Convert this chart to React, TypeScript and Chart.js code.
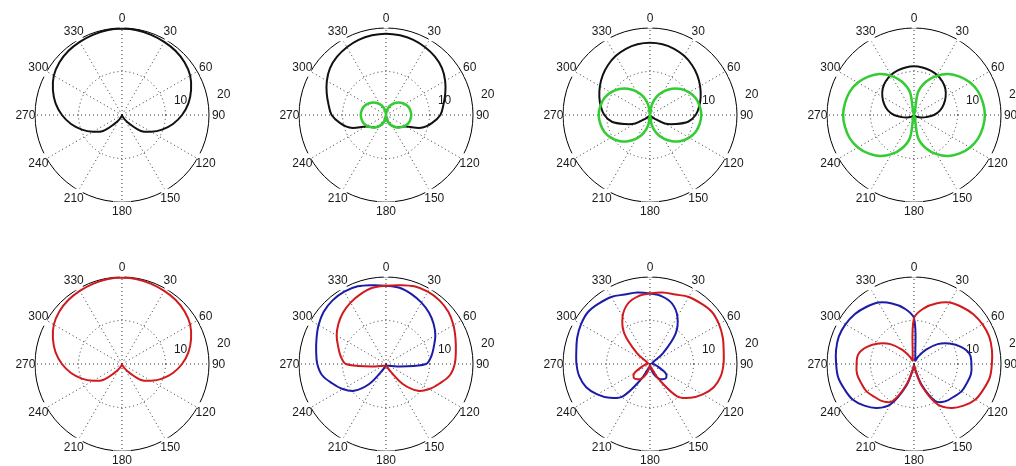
import React, { useEffect, useRef } from 'react';
import { Chart, registerables } from 'chart.js';

Chart.register(...registerables);

// ---- categories / tick labels ----
const ANGLES = ['0','10','20','30','40','50','60','70','80','90','100','110','120','130','140','150','160','170',
  '180','190','200','210','220','230','240','250','260','270','280','290','300','310','320','330','340','350'];
const ANGLE_LABELS = ['0','30','60','90','120','150','180','210','240','270','300','330'];
const RING_TICKS = [10, 20];
const R_MAX = 20;

// ---- series values (radius at 0,10,...,350 degrees, clockwise from top) ----
const P1_BLACK = [19.8, 19.8, 19.6, 19.4, 19.2, 18.8, 18.1, 16.9, 15.5, 13.8, 11.9, 9.8, 7.7, 5.7, 2.6, 1.1, 0.4, 0.1,
  0, 0.1, 0.4, 1.1, 2.6, 5.7, 7.7, 9.8, 11.9, 13.8, 15.5, 16.9, 18.1, 18.8, 19.2, 19.4, 19.6, 19.8];

const P2_BLACK = [18.7, 18.6, 18.4, 18.0, 17.5, 16.8, 15.7, 14.5, 13.4, 12.5, 10.7, 8.6, 5.3, 4.3, 3.7, 2.9, 2.0, 1.0,
  0, 1.0, 2.0, 2.9, 3.7, 4.3, 5.3, 8.6, 10.7, 12.5, 13.4, 14.5, 15.7, 16.8, 17.5, 18.0, 18.4, 18.6];
const P2_GREEN = [0, 1.0, 2.0, 2.9, 3.7, 4.4, 5.0, 5.5, 5.7, 5.8, 5.7, 5.5, 5.0, 4.4, 3.7, 2.9, 2.0, 1.0,
  0, 1.0, 2.0, 2.9, 3.7, 4.4, 5.0, 5.5, 5.7, 5.8, 5.7, 5.5, 5.0, 4.4, 3.7, 2.9, 2.0, 1.0];

const P3_BLACK = [16.6, 16.5, 16.2, 15.7, 15.0, 14.2, 13.3, 12.4, 11.5, 10.5, 8.9, 6.1, 3.9, 1.2, 0.5, 0.2, 0.1, 0,
  0, 0, 0.1, 0.2, 0.5, 1.2, 3.9, 6.1, 8.9, 10.5, 11.5, 12.4, 13.3, 14.2, 15.0, 15.7, 16.2, 16.5];
const P3_GREEN = [0, 2.4, 4.5, 6.3, 7.9, 9.3, 10.4, 11.2, 11.6, 11.8, 11.6, 11.2, 10.4, 9.3, 7.9, 6.3, 4.5, 2.4,
  0, 2.4, 4.5, 6.3, 7.9, 9.3, 10.4, 11.2, 11.6, 11.8, 11.6, 11.2, 10.4, 9.3, 7.9, 6.3, 4.5, 2.4];

const P4_BLACK = [11.2, 11.1, 10.9, 10.6, 10.1, 9.4, 8.4, 7.3, 6.1, 4.6, 2.8, 1.6, 0.9, 0.5, 0.2, 0.1, 0, 0,
  0, 0, 0, 0.1, 0.2, 0.5, 0.9, 1.6, 2.8, 4.6, 6.1, 7.3, 8.4, 9.4, 10.1, 10.6, 10.9, 11.1];
const P4_GREEN = [0, 5.3, 8.2, 10.4, 12.3, 13.7, 14.9, 15.7, 16.1, 16.3, 16.1, 15.7, 14.9, 13.7, 12.3, 10.4, 8.2, 5.3,
  0, 5.3, 8.2, 10.4, 12.3, 13.7, 14.9, 15.7, 16.1, 16.3, 16.1, 15.7, 14.9, 13.7, 12.3, 10.4, 8.2, 5.3];

const P5_RED = [19.8, 19.8, 19.6, 19.4, 19.2, 18.8, 18.1, 16.9, 15.5, 13.8, 11.9, 9.8, 7.7, 5.7, 2.6, 1.1, 0.4, 0.1,
  0, 0.1, 0.4, 1.1, 2.6, 5.7, 7.7, 9.8, 11.9, 13.8, 15.5, 16.9, 18.1, 18.8, 19.2, 19.4, 19.6, 19.8];

const P6_BLUE = [18.0, 17.8, 17.1, 16.3, 15.4, 14.3, 13.1, 11.7, 10.6, 9.2, 3.4, 1.4, 0.8, 0.6, 0.5, 0.4, 0.4, 0.4,
  0.5, 0.5, 0.7, 1.8, 6.0, 9.6, 11.5, 13.1, 14.9, 15.8, 16.3, 17.0, 17.9, 18.7, 19.1, 19.2, 19.0, 18.4];
const P6_RED = [18.0, 18.4, 19.0, 19.2, 19.1, 18.7, 17.9, 17.0, 16.3, 15.8, 14.9, 13.1, 11.5, 9.6, 6.0, 1.8, 0.7, 0.5,
  0.5, 0.4, 0.4, 0.4, 0.5, 0.6, 0.8, 1.4, 3.4, 9.2, 10.6, 11.7, 13.1, 14.3, 15.4, 16.3, 17.1, 17.8];

const P7_BLUE = [16.2, 15.8, 14.8, 12.6, 9.2, 4.0, 0.8, 0.5, 0.5, 0.7, 1.2, 2.1, 4.1, 4.9, 4.6, 3.8, 2.4, 0.95,
  0.3, 0.6, 1.2, 4.0, 9.7, 12.1, 14.0, 15.6, 16.5, 16.9, 17.2, 17.8, 18.3, 18.6, 18.2, 17.8, 17.0, 16.7];
const P7_RED = [16.2, 16.7, 17.0, 17.8, 18.2, 18.6, 18.3, 17.8, 17.2, 16.9, 16.5, 15.6, 14.0, 12.1, 9.7, 4.0, 1.2, 0.6,
  0.3, 0.95, 2.4, 3.8, 4.6, 4.9, 4.1, 2.1, 1.2, 0.7, 0.5, 0.5, 0.8, 4.0, 9.2, 12.6, 14.8, 15.8];

const P8_BLUE = [10.5, 1.8, 0.8, 2.0, 4.3, 7.1, 9.4, 11.5, 13.0, 13.2, 13.3, 12.9, 12.6, 11.8, 11.2, 9.9, 5.0, 1.0,
  0.3, 1.2, 5.5, 10.6, 13.2, 14.9, 16.3, 17.0, 17.7, 17.9, 18.2, 18.4, 18.2, 17.8, 17.1, 16.3, 14.8, 13.0];
const P8_RED = [10.5, 13.0, 14.8, 16.3, 17.1, 17.8, 18.2, 18.4, 18.2, 17.9, 17.7, 17.0, 16.3, 14.9, 13.2, 10.6, 5.5, 1.2,
  0.3, 1.0, 5.0, 9.9, 11.2, 11.8, 12.6, 12.9, 13.3, 13.2, 13.0, 11.5, 9.4, 7.1, 4.3, 2.0, 0.8, 1.8];

// ---- styles ----
const BLACK = '#111111';
const GREEN = '#33cc33';
const RED = '#d01a1e';
const BLUE = '#1c1ca8';

type Series = { data: number[]; color: string; width: number };

const PANELS: { series: Series[] }[] = [
  { series: [{ data: P1_BLACK, color: BLACK, width: 2 }] },
  { series: [{ data: P2_GREEN, color: GREEN, width: 2.5 }, { data: P2_BLACK, color: BLACK, width: 2 }] },
  { series: [{ data: P3_GREEN, color: GREEN, width: 2.5 }, { data: P3_BLACK, color: BLACK, width: 2 }] },
  { series: [{ data: P4_GREEN, color: GREEN, width: 2.5 }, { data: P4_BLACK, color: BLACK, width: 2 }] },
  { series: [{ data: P5_RED, color: RED, width: 2 }] },
  { series: [{ data: P6_RED, color: RED, width: 2 }, { data: P6_BLUE, color: BLUE, width: 2 }] },
  { series: [{ data: P7_RED, color: RED, width: 2 }, { data: P7_BLUE, color: BLUE, width: 2 }] },
  { series: [{ data: P8_RED, color: RED, width: 2 }, { data: P8_BLUE, color: BLUE, width: 2 }] },
];

const CANVAS = 230;
const PAD = 28;
const COL_LEFT = [7, 271, 535, 799];
const ROW_TOP = [0, 249];

const FONT = '12px "Liberation Sans", Arial, Helvetica, sans-serif';

const polarText = {
  id: 'polarText',
  beforeDatasetsDraw(chart: any) {
    const scale = chart.scales.r;
    const ctx = chart.ctx as CanvasRenderingContext2D;
    ctx.save();
    ctx.font = FONT;
    ctx.textAlign = 'center';
    ctx.textBaseline = 'middle';
    const dist = scale.getDistanceFromCenterForValue(R_MAX * 1.11);
    ANGLE_LABELS.forEach((lab) => {
      const idx = ANGLES.indexOf(lab);
      const p = scale.getPointPosition(idx, dist);
      const w = ctx.measureText(lab).width;
      ctx.fillStyle = '#ffffff';
      ctx.fillRect(p.x - w / 2 + 1, p.y - 10, w - 2, 20);
      ctx.fillStyle = '#1a1a1a';
      ctx.fillText(lab, p.x, p.y + 0.5);
    });
    ctx.textAlign = 'left';
    ctx.textBaseline = 'alphabetic';
    const a = (82 * Math.PI) / 180;
    const step = RING_TICKS[0];
    RING_TICKS.forEach((v) => {
      const d = scale.getDistanceFromCenterForValue(v + step / 20);
      const x = scale.xCenter + d * Math.sin(a);
      const y = scale.yCenter - d * Math.cos(a);
      ctx.fillText('  ' + v, x, y - 5);
    });
    ctx.restore();
  },
};

function PolarPanel({ series, left, top }: { series: Series[]; left: number; top: number }) {
  const ref = useRef<HTMLCanvasElement>(null);
  useEffect(() => {
    const chart = new Chart(ref.current as HTMLCanvasElement, {
      type: 'radar',
      data: {
        labels: ANGLES,
        datasets: series.map((s) => ({
          data: s.data,
          borderColor: s.color,
          backgroundColor: s.color,
          borderWidth: s.width,
          pointRadius: 0,
          pointHoverRadius: 0,
          fill: false,
          tension: 0.35,
        })),
      },
      options: {
        responsive: false,
        animation: false,
        devicePixelRatio: 1,
        events: [],
        layout: { padding: PAD },
        plugins: {
          legend: { display: false },
          tooltip: { enabled: false },
          title: { display: false },
        },
        scales: {
          r: {
            min: 0,
            max: R_MAX,
            startAngle: 0,
            ticks: { display: false, stepSize: RING_TICKS[0] },
            pointLabels: { display: false },
            grid: {
              circular: true,
              color: (c: any) => (c.index === RING_TICKS.length ? '#000000' : '#333333'),
              lineWidth: 1,
            },
            border: {
              dash: (c: any) => (c.index === RING_TICKS.length ? [] : [1, 3]),
            },
            angleLines: {
              display: true,
              color: '#333333',
              lineWidth: (c: any) => (c.index % 3 === 0 ? 1 : 0),
              borderDash: [1, 3],
            },
          },
        },
      } as any,
      plugins: [polarText],
    });
    return () => chart.destroy();
  }, []);
  return (
    <canvas
      ref={ref}
      width={CANVAS}
      height={CANVAS}
      style={{ position: 'absolute', left, top, width: CANVAS, height: CANVAS }}
    />
  );
}

export default function App() {
  return (
    <div
      style={{
        position: 'fixed',
        left: 0,
        top: 0,
        width: 1016,
        height: 466,
        overflow: 'hidden',
        background: '#ffffff',
      }}
    >
      {PANELS.map((p, i) => (
        <PolarPanel key={i} series={p.series} left={COL_LEFT[i % 4]} top={ROW_TOP[Math.floor(i / 4)]} />
      ))}
    </div>
  );
}
